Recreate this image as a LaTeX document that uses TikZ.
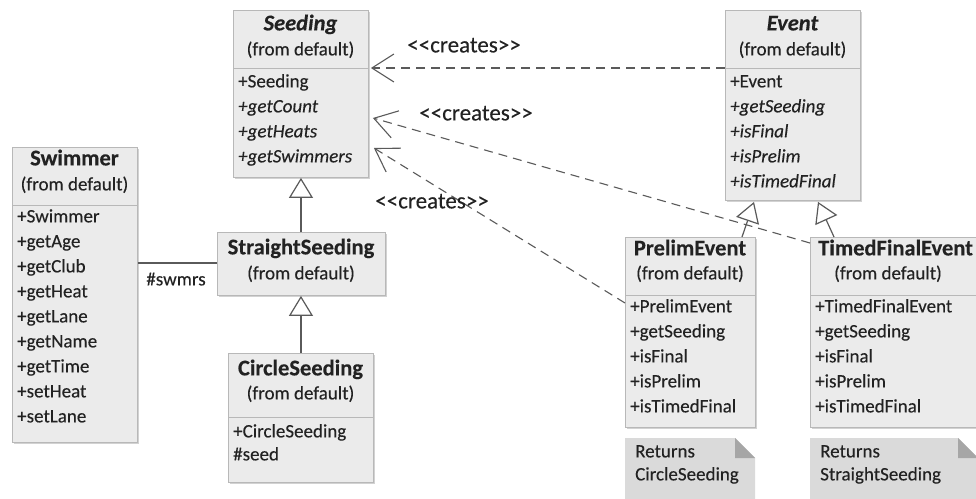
\documentclass[tikz,border=0pt]{standalone}
\usepackage{fontspec}
\setmainfont{Carlito}[FakeBold=0.25]
\usetikzlibrary{arrows.meta,calc,shadows}
\definecolor{boxfill}{HTML}{EBEBEB}
\definecolor{boxline}{HTML}{B8B8B8}
\definecolor{txtc}{HTML}{222222}
\definecolor{linec}{HTML}{5A5A5A}
\definecolor{notefill}{HTML}{DADADA}
\definecolor{folddark}{HTML}{A6A6A6}
\begin{document}
\begin{tikzpicture}[x=1pt,y=-1pt,
  font=\fontsize{19}{22}\selectfont, text=txtc,
  cls/.style={draw=boxline, fill=boxfill, line width=0.9pt, inner sep=0pt, anchor=north west,
    drop shadow={shadow xshift=2pt,shadow yshift=-2pt,opacity=0.35,fill=gray}},
  divl/.style={draw=boxline, line width=0.9pt},
  cname/.style={font=\fontsize{22.5}{24}\selectfont\bfseries, inner sep=0pt, anchor=mid},
  cfrom/.style={inner sep=0pt, anchor=mid},
  attr/.style={inner sep=0pt, anchor=mid west},
  dep/.style={draw=linec, line width=1.1pt, dash pattern=on 9pt off 6pt,
    -{Straight Barb[length=22pt,width=28pt,line width=1.1pt]}},
  gen/.style={draw=linec, line width=1.2pt,
    -{Triangle[open,length=20pt,width=24pt,fill=white,line width=1.2pt]}},
  assoc/.style={draw=linec, line width=1.2pt},
  lbl/.style={inner sep=0pt, anchor=mid, font=\fontsize{23}{24}\selectfont}]
\useasboundingbox (0,0) rectangle (976,498);
\fill[white] (0,0) rectangle (976,498);

% ---------- Swimmer
\node[cls, minimum width=125pt, minimum height=295pt] (swimmer) at (12,147) {};
\draw[divl] (swimmer.west |- 0,205) -- (swimmer.east |- 0,205);
\node[cname] (swimmer-n) at (74.5,163) {Swimmer};
\node[cfrom] (swimmer-f) at (74.5,188) {(from default)};
\foreach [count=\i from 0] \t in {+Swimmer,+getAge,+getClub,+getHeat,+getLane,+getName,+getTime,+setHeat,+setLane}
  \node[attr] (swimmer-a\i) at (17,220+25*\i) {\t};

% ---------- Seeding
\node[cls, minimum width=135pt, minimum height=167pt] (seeding) at (233,10) {};
\draw[divl] (seeding.west |- 0,68) -- (seeding.east |- 0,68);
\node[cname, font=\fontsize{22.5}{24}\selectfont\bfseries\itshape] (seeding-n) at (300.5,28) {Seeding};
\node[cfrom] (seeding-f) at (300.5,53) {(from default)};
\foreach [count=\i from 0] \t in {+Seeding,\textit{+getCount},\textit{+getHeats},\textit{+getSwimmers}}
  \node[attr] (seeding-a\i) at (238,85+25*\i) {\t};

% ---------- StraightSeeding
\node[cls, minimum width=168pt, minimum height=63pt] (straight) at (217,232) {};
\node[cname] (straight-n) at (301,252) {StraightSeeding};
\node[cfrom] (straight-f) at (301,277) {(from default)};

% ---------- CircleSeeding
\node[cls, minimum width=145pt, minimum height=129pt] (circle) at (228,353) {};
\draw[divl] (circle.west |- 0,417) -- (circle.east |- 0,417);
\node[cname] (circle-n) at (300.5,373) {CircleSeeding};
\node[cfrom] (circle-f) at (300.5,397) {(from default)};
\node[attr] (circle-a0) at (233,435) {+CircleSeeding};
\node[attr] (circle-a1) at (233,458) {\#seed};

% ---------- Event
\node[cls, minimum width=135pt, minimum height=190pt] (event) at (725,10) {};
\draw[divl] (event.west |- 0,68) -- (event.east |- 0,68);
\node[cname, font=\fontsize{22.5}{24}\selectfont\bfseries\itshape] (event-n) at (792.5,28) {Event};
\node[cfrom] (event-f) at (792.5,53) {(from default)};
\foreach [count=\i from 0] \t in {+Event,\textit{+getSeeding},\textit{+isFinal},\textit{+isPrelim},\textit{+isTimedFinal}}
  \node[attr] (event-a\i) at (730,85+25*\i) {\t};

% ---------- PrelimEvent
\node[cls, minimum width=130pt, minimum height=190pt] (prelim) at (625,237) {};
\draw[divl] (prelim.west |- 0,295) -- (prelim.east |- 0,295);
\node[cname] (prelim-n) at (690,253) {PrelimEvent};
\node[cfrom] (prelim-f) at (690,277) {(from default)};
\foreach [count=\i from 0] \t in {+PrelimEvent,+getSeeding,+isFinal,+isPrelim,+isTimedFinal}
  \node[attr] (prelim-a\i) at (630,310+25*\i) {\t};

% ---------- TimedFinalEvent
\node[cls, minimum width=176pt, minimum height=190pt] (timed) at (810,237) {};
\draw[divl] (timed.west |- 0,295) -- (timed.east |- 0,295);
\node[cname, anchor=mid west] (timed-n) at (818,253) {TimedFinalEvent};
\node[cfrom] (timed-f) at (888,277) {(from default)};
\foreach [count=\i from 0] \t in {+TimedFinalEvent,+getSeeding,+isFinal,+isPrelim,+isTimedFinal}
  \node[attr] (timed-a\i) at (815,310+25*\i) {\t};

% ---------- Notes
\fill[notefill] (625,438) -- (735,438) -- (755,458) -- (755,505) -- (625,505) -- cycle;
\fill[folddark] (735,438) -- (755,458) -- (735,458) -- cycle;
\node[attr] (note1-a) at (635,455) {Returns};
\node[attr] (note1-b) at (635,478) {CircleSeeding};
\fill[notefill] (810,438) -- (958,438) -- (978,458) -- (978,505) -- (810,505) -- cycle;
\fill[folddark] (958,438) -- (978,458) -- (958,458) -- cycle;
\node[attr] (note2-a) at (820,455) {Returns};
\node[attr] (note2-b) at (820,478) {StraightSeeding};

% ---------- connectors
\coordinate (s1) at ($(seeding.north east)+(2,58)$);
\coordinate (s2) at ($(seeding.north east)+(4,108)$);
\coordinate (s3) at ($(seeding.north east)+(5,138)$);
\coordinate (e1) at ($(event.north west)+(0,58)$);
\coordinate (t1) at ($(timed.north west)+(0,6)$);
\coordinate (p1) at ($(prelim.north west)+(0,66)$);
\draw[dep] (e1) -- (s1);
\draw[dep] (t1) -- (s2);
\draw[dep] (p1) -- (s3);
\node[lbl] (lbl1) at (464,50) {<{}<creates>{}>};
\node[lbl] (lbl2) at (476,118) {<{}<creates>{}>};
\node[lbl] (lbl3) at (432,206) {<{}<creates>{}>};

\draw[gen] (straight.north -| seeding.south) -- (seeding.south);
\draw[gen] (circle.north) -- (circle.north |- straight.south);

\coordinate (pe) at ($(prelim.north west)+(117,0)$);
\coordinate (ep) at ($(event.south west)+(29,1)$);
\coordinate (te) at ($(timed.north west)+(24,0)$);
\coordinate (et) at ($(event.south west)+(93,1)$);
\draw[gen] (pe) -- (ep);
\draw[gen] (te) -- (et);

\draw[assoc] (swimmer.east |- 0,263) -- (straight.west |- 0,263);
\node[lbl, font=\fontsize{19}{22}\selectfont] (swmrs) at (176,283) {\#swmrs};
\end{tikzpicture}
\end{document}
